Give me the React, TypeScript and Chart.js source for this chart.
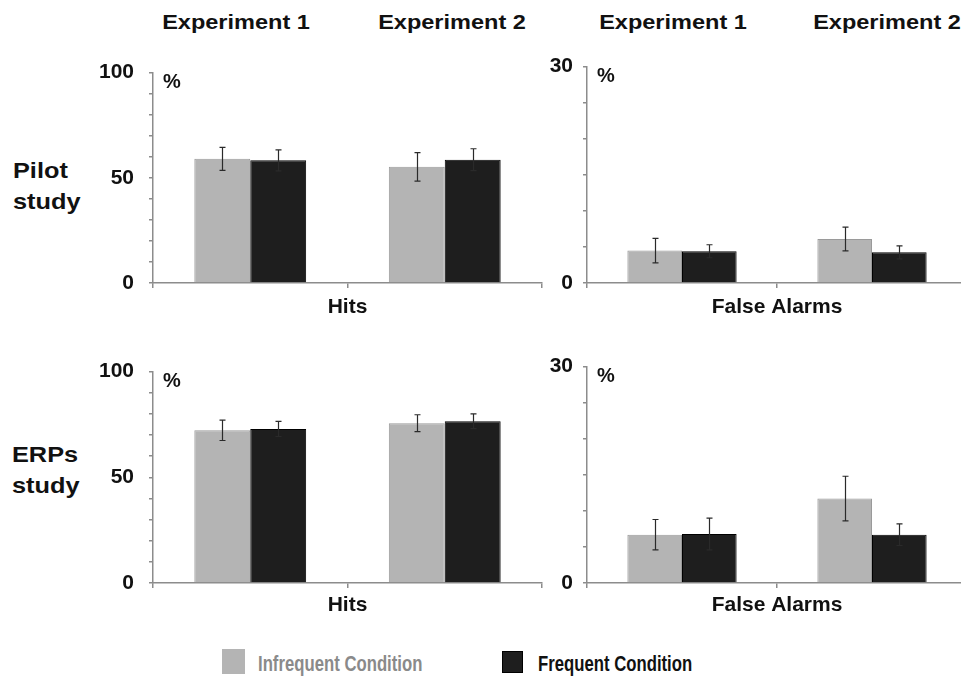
import React, { useEffect, useRef } from 'react';
import { Chart, registerables } from 'chart.js';

Chart.register(...registerables);

// ---------- data ----------
const CATEGORIES = ['Experiment 1', 'Experiment 2'];

const PILOT_HITS_INFREQ = [59.0, 55.2];
const PILOT_HITS_INFREQ_ERR = [5.5, 6.8];
const PILOT_HITS_FREQ = [58.3, 58.6];
const PILOT_HITS_FREQ_ERR = [5.0, 5.2];

const PILOT_FA_INFREQ = [4.5, 6.1];
const PILOT_FA_INFREQ_ERR = [1.7, 1.65];
const PILOT_FA_FREQ = [4.4, 4.25];
const PILOT_FA_FREQ_ERR = [0.9, 0.9];

const ERP_HITS_INFREQ = [72.2, 75.6];
const ERP_HITS_INFREQ_ERR = [4.8, 4.0];
const ERP_HITS_FREQ = [72.9, 76.5];
const ERP_HITS_FREQ_ERR = [3.6, 3.5];

const ERP_FA_INFREQ = [6.7, 11.7];
const ERP_FA_INFREQ_ERR = [2.1, 3.1];
const ERP_FA_FREQ = [6.8, 6.7];
const ERP_FA_FREQ_ERR = [2.2, 1.5];

const SERIES_NAMES = ['Infrequent Condition', 'Frequent Condition'];
const HITS_MAX = 100;
const HITS_STEP = 10;
const HITS_LABEL_EVERY = 50;
const FA_MAX = 30;
const FA_STEP = 5;
const FA_LABEL_EVERY = 30;

// ---------- styles ----------
const FONT = '"Liberation Sans", Arial, Helvetica, sans-serif';
const GRAY = '#b4b4b4';
const GRAY_BORDER = '#9a9a9a';
const BLACK = '#1e1e1e';
const AXIS = '#8c8c8c';

type PanelProps = {
  infreq: number[];
  freq: number[];
  infreqErr: number[];
  freqErr: number[];
  max: number;
  step: number;
  labelEvery: number;
  title: string;
  left: number;
  top: number;
  width: number;
  height: number;
  yAxisWidth: number;
  padTop: number;
  padRight: number;
  tickPad: number;
  titlePad: number;
};

function Panel(p: PanelProps) {
  const ref = useRef<HTMLCanvasElement | null>(null);
  useEffect(() => {
    if (!ref.current) return;
    const errs = [p.infreqErr, p.freqErr];
    const errPlugin = {
      id: 'errbars',
      afterDatasetsDraw(chart: any) {
        const ctx = chart.ctx;
        const ys = chart.scales.y;
        ctx.save();
        ctx.strokeStyle = '#2a2a2a';
        ctx.lineWidth = 1.2;
        chart.data.datasets.forEach((ds: any, i: number) => {
          const meta = chart.getDatasetMeta(i);
          meta.data.forEach((bar: any, j: number) => {
            const v = ds.data[j];
            const e = errs[i][j];
            const y1 = ys.getPixelForValue(v + e);
            const y2 = ys.getPixelForValue(v - e);
            const x = Math.round(bar.x) + 0.5;
            ctx.beginPath();
            ctx.moveTo(x, y1);
            ctx.lineTo(x, y2);
            ctx.moveTo(x - 3, y1);
            ctx.lineTo(x + 3, y1);
            ctx.moveTo(x - 3, y2);
            ctx.lineTo(x + 3, y2);
            ctx.stroke();
          });
        });
        ctx.restore();
      },
    };
    const pctPlugin = {
      id: 'pct',
      afterDraw(chart: any) {
        const ctx = chart.ctx;
        const a = chart.chartArea;
        ctx.save();
        ctx.fillStyle = '#111';
        ctx.font = `bold 20px ${FONT}`;
        ctx.textBaseline = 'alphabetic';
        ctx.fillText('%', a.left + 10, a.top + 15);
        ctx.restore();
      },
    };
    const chart = new Chart(ref.current, {
      type: 'bar',
      data: {
        labels: CATEGORIES,
        datasets: [
          {
            label: SERIES_NAMES[0],
            data: p.infreq,
            backgroundColor: GRAY,
            borderColor: GRAY_BORDER,
            borderWidth: 1,
            categoryPercentage: 0.575,
            barPercentage: 1,
          },
          {
            label: SERIES_NAMES[1],
            data: p.freq,
            backgroundColor: BLACK,
            borderColor: '#000',
            borderWidth: 1,
            categoryPercentage: 0.575,
            barPercentage: 1,
          },
        ],
      },
      options: {
        responsive: false,
        animation: false,
        devicePixelRatio: 1,
        layout: {
          autoPadding: false,
          padding: { left: 0, top: p.padTop, right: p.padRight, bottom: 0 },
        },
        plugins: {
          legend: { display: false },
          tooltip: { enabled: false },
          title: { display: false },
        },
        scales: {
          x: {
            offset: true,
            grid: {
              display: true,
              drawOnChartArea: false,
              drawTicks: true,
              tickLength: 5,
              color: AXIS,
              lineWidth: 1.5,
              offset: true,
            },
            border: { display: true, color: AXIS, width: 1.5 },
            ticks: { display: false },
            title: {
              display: true,
              text: p.title,
              color: '#111',
              font: { family: FONT, size: 21, weight: 'bold', lineHeight: 1.2 },
              padding: { top: 0, bottom: p.titlePad },
            },
            afterFit: (s: any) => {
              s.height = 44;
            },
          },
          y: {
            min: 0,
            max: p.max,
            ticks: {
              stepSize: p.step,
              autoSkip: false,
              callback: (v: any) => (Number(v) % p.labelEvery === 0 ? String(v) : ''),
              color: '#111',
              font: { family: FONT, size: 21, weight: 'bold' },
              padding: p.tickPad,
            },
            grid: {
              display: true,
              drawOnChartArea: false,
              drawTicks: true,
              tickLength: 4,
              color: AXIS,
              lineWidth: 1.5,
            },
            border: { display: true, color: AXIS, width: 1.5 },
            afterFit: (s: any) => {
              s.width = p.yAxisWidth;
            },
          },
        },
      } as any,
      plugins: [errPlugin, pctPlugin],
    });
    return () => chart.destroy();
  }, []);
  return (
    <canvas
      ref={ref}
      width={p.width}
      height={p.height}
      style={{ position: 'absolute', left: p.left, top: p.top, width: p.width, height: p.height }}
    />
  );
}

function Text(props: {
  text: string;
  x: number;
  baseline: number;
  size: number;
  color?: string;
  sx?: number;
  center?: boolean;
}) {
  const { text, x, baseline, size, color = '#111', sx = 1, center = false } = props;
  return (
    <div
      style={{
        position: 'absolute',
        left: x,
        top: baseline - 0.8465 * size,
        fontFamily: FONT,
        fontWeight: 'bold',
        fontSize: size,
        lineHeight: `${size}px`,
        color,
        whiteSpace: 'nowrap',
        transform: center ? `translateX(-50%) scaleX(${sx})` : `scaleX(${sx})`,
        transformOrigin: center ? 'center' : 'left',
      }}
    >
      {text}
    </div>
  );
}

export default function App() {
  return (
    <div
      style={{
        position: 'fixed',
        left: 0,
        top: 0,
        width: 961,
        height: 677,
        overflow: 'hidden',
        background: '#fff',
      }}
    >
      {/* column headers */}
      <Text text={CATEGORIES[0]} x={236} baseline={29} size={21} sx={1.12} center />
      <Text text={CATEGORIES[1]} x={452} baseline={29} size={21} sx={1.12} center />
      <Text text={CATEGORIES[0]} x={673} baseline={29} size={21} sx={1.12} center />
      <Text text={CATEGORIES[1]} x={887} baseline={29} size={21} sx={1.12} center />

      {/* row labels */}
      <Text text="Pilot" x={13} baseline={179} size={22} sx={1.15} />
      <Text text="study" x={13} baseline={210} size={22} sx={1.15} />
      <Text text="ERPs" x={12} baseline={463} size={22} sx={1.15} />
      <Text text="study" x={12} baseline={494} size={22} sx={1.15} />

      <Panel
        infreq={PILOT_HITS_INFREQ}
        freq={PILOT_HITS_FREQ}
        infreqErr={PILOT_HITS_INFREQ_ERR}
        freqErr={PILOT_HITS_FREQ_ERR}
        max={HITS_MAX}
        step={HITS_STEP}
        labelEvery={HITS_LABEL_EVERY}
        title="Hits"
        left={90}
        top={45}
        width={456}
        height={282}
        yAxisWidth={63}
        padTop={20}
        padRight={4}
        tickPad={15}
        titlePad={7.4}
      />
      <Panel
        infreq={PILOT_FA_INFREQ}
        freq={PILOT_FA_FREQ}
        infreqErr={PILOT_FA_INFREQ_ERR}
        freqErr={PILOT_FA_FREQ_ERR}
        max={FA_MAX}
        step={FA_STEP}
        labelEvery={FA_LABEL_EVERY}
        title="False Alarms"
        left={540}
        top={44}
        width={440}
        height={283}
        yAxisWidth={47}
        padTop={20}
        padRight={13}
        tickPad={10}
        titlePad={7.4}
      />
      <Panel
        infreq={ERP_HITS_INFREQ}
        freq={ERP_HITS_FREQ}
        infreqErr={ERP_HITS_INFREQ_ERR}
        freqErr={ERP_HITS_FREQ_ERR}
        max={HITS_MAX}
        step={HITS_STEP}
        labelEvery={HITS_LABEL_EVERY}
        title="Hits"
        left={90}
        top={344}
        width={456}
        height={283}
        yAxisWidth={63}
        padTop={20}
        padRight={4}
        tickPad={15}
        titlePad={9.4}
      />
      <Panel
        infreq={ERP_FA_INFREQ}
        freq={ERP_FA_FREQ}
        infreqErr={ERP_FA_INFREQ_ERR}
        freqErr={ERP_FA_FREQ_ERR}
        max={FA_MAX}
        step={FA_STEP}
        labelEvery={FA_LABEL_EVERY}
        title="False Alarms"
        left={540}
        top={344}
        width={440}
        height={283}
        yAxisWidth={47}
        padTop={20}
        padRight={13}
        tickPad={10}
        titlePad={9.4}
      />

      {/* legend */}
      <div style={{ position: 'absolute', left: 222, top: 649, width: 23, height: 25, background: GRAY }} />
      <Text text={SERIES_NAMES[0]} x={258} baseline={672} size={22} color="#8a8a8a" sx={0.76} />
      <div
        style={{
          position: 'absolute',
          left: 502,
          top: 651,
          width: 19,
          height: 20,
          background: BLACK,
          border: '1px solid #000',
        }}
      />
      <Text text={SERIES_NAMES[1]} x={538} baseline={672} size={22} color="#111" sx={0.76} />
    </div>
  );
}
